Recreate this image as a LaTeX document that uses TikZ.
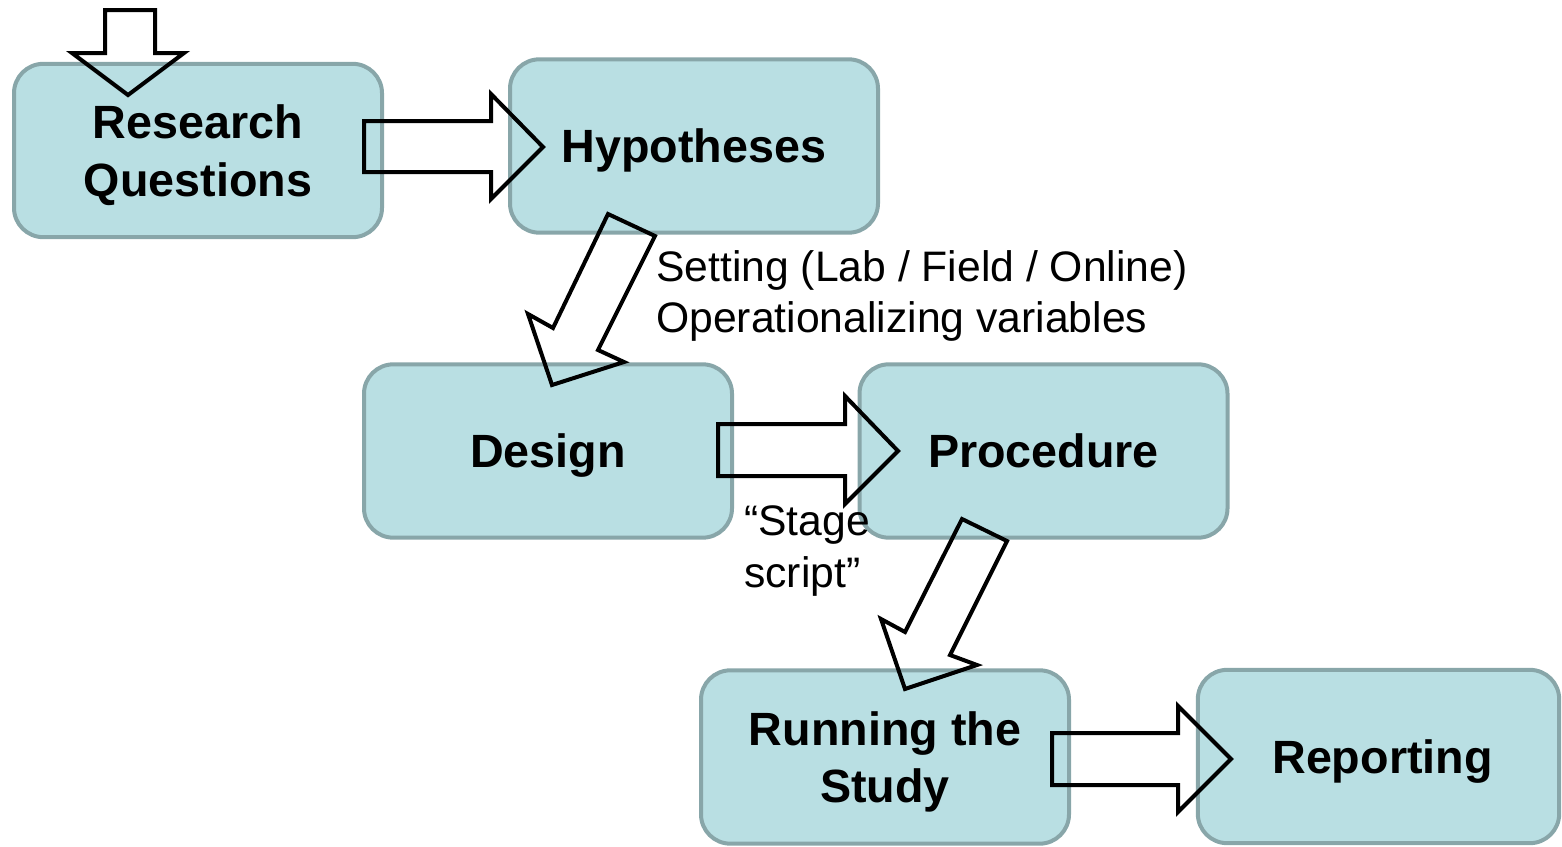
\documentclass[tikz,border=0pt]{standalone}
\usepackage{fontspec}
\setmainfont{Liberation Sans}
\definecolor{boxfill}{HTML}{B9DFE3}
\definecolor{boxline}{HTML}{88A6A9}
\begin{document}
\begin{tikzpicture}[x=0.75pt,y=-0.75pt,
  stagebox/.style={draw=boxline,fill=boxfill,line width=3pt,rounded corners=22pt,
    inner sep=0pt,minimum height=130pt,align=center,text depth=-4.5pt,
    font=\fontsize{35}{43}\selectfont\bfseries},
  blockarrow/.style={draw=black,line width=3pt,line join=miter},
  note/.style={inner sep=0pt,align=left,anchor=west,font=\fontsize{32}{38.5}\selectfont}]
\useasboundingbox (0,0) rectangle (1562,846);
% boxes
\node[stagebox,minimum width=276pt] (rq) at (198,150.5) {Research\\Questions};
\node[stagebox,minimum width=276pt] (hyp) at (694,146) {Hypotheses};
\node[stagebox,minimum width=276pt] (des) at (548,451) {Design};
\node[stagebox,minimum width=276pt] (proc) at (1043.5,451) {Procedure};
\node[stagebox,minimum width=276pt] (run) at (885,757) {Running the\\Study};
\node[stagebox,minimum width=271pt] (rep) at (1378.5,756.5) {\hspace*{6pt}Reporting};
% block arrows
\draw[blockarrow] (105,10) -- (155,10) -- (155,53) -- (184,53) -- (128,95) -- (72,53) -- (105,53) -- cycle;
\draw[blockarrow] (364,121) -- (491,121) -- (491,94) -- (543,147) -- (491,199) -- (491,172) -- (364,172) -- cycle;
\draw[blockarrow] (718,424) -- (845,424) -- (845,396) -- (898,451) -- (845,504) -- (845,476) -- (718,476) -- cycle;
\draw[blockarrow] (1052,733) -- (1178,733) -- (1178,706) -- (1231,759) -- (1178,812) -- (1178,785) -- (1052,785) -- cycle;
\draw[blockarrow] (608,214) -- (655,236) -- (598,350) -- (624,362) -- (552,385) -- (528,314) -- (553,328) -- cycle;
\draw[blockarrow] (962,519) -- (1007,541) -- (950,655) -- (977,665) -- (905,689) -- (881,619) -- (905,632) -- cycle;
% notes
\node[note] (set) at (656,296) {Setting (Lab / Field / Online)\\Operationalizing variables};
\node[note] (stg) at (744,551) {“Stage\\script”};
\end{tikzpicture}
\end{document}
